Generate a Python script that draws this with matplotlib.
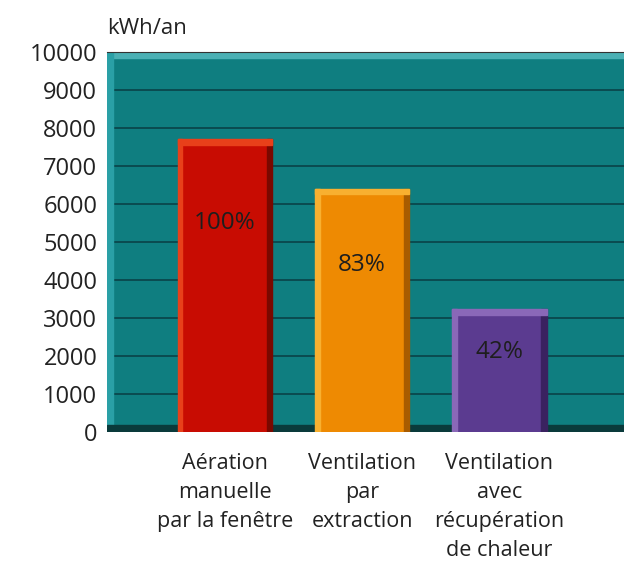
import matplotlib.pyplot as plt
from matplotlib.patches import Rectangle

categories = ['Aération\nmanuelle\npar la fenêtre', 'Ventilation\npar\nextraction',
              'Ventilation\navec\nrécupération\nde chaleur']
values = [7700, 6400, 3230]
percent_labels = ['100%', '83%', '42%']
label_y = [5500, 4400, 2100]
yticks = list(range(0, 10001, 1000))

bar_colors = ['#c80c02', '#ee8a02', '#5b3b90']
light_edge = ['#e8401a', '#f8b030', '#8a68b8']
dark_edge = ['#7a0800', '#a85c00', '#3a2260']

plt.rcParams['font.family'] = ['Open Sans', 'DejaVu Sans']

fig = plt.figure(figsize=(6.24, 5.62), dpi=100)
ax = fig.add_axes([0.1715, 0.2313, 0.8285, 0.6762])
ax.set_facecolor('#0f7e80')

x = range(len(values))
bars = ax.bar(x, values, width=0.69, color=bar_colors, zorder=3)

# bevel edges on the bars
for b, lc, dc in zip(bars, light_edge, dark_edge):
    bx, bw, bh = b.get_x(), b.get_width(), b.get_height()
    ax.add_patch(Rectangle((bx, 0), bw * 0.05, bh, color=lc, zorder=4))
    ax.add_patch(Rectangle((bx + bw * 0.94, 0), bw * 0.06, bh, color=dc, zorder=4))
    ax.add_patch(Rectangle((bx, bh - 150), bw, 150, color=lc, zorder=4))

for i, (t, yy) in enumerate(zip(percent_labels, label_y)):
    ax.text(i, yy, t, ha='center', va='center', fontsize=17.5, color='#1e1e1e', zorder=5)

ax.set_xlim(-0.86, 2.91)
ax.set_ylim(0, 10000)
ax.set_yticks(yticks)
ax.set_yticklabels([str(v) for v in yticks], fontsize=17, color='#222222')
ax.set_xticks(list(x))
ax.set_xticklabels(categories, fontsize=15.5, color='#222222', linespacing=1.5)
ax.tick_params(axis='both', length=0, pad=7)
ax.tick_params(axis='x', pad=15)
ax.grid(axis='y', color='#0a474c', linewidth=1.3, zorder=1)
ax.set_axisbelow(True)

# 3D look: top strip, left wall edge and floor
ax.add_patch(Rectangle((0, 0.983), 1, 0.017, transform=ax.transAxes, color='#4bb0b4', zorder=2))
ax.add_patch(Rectangle((0, 0), 0.012, 1, transform=ax.transAxes, color='#2aa0a6', zorder=2))
ax.add_patch(Rectangle((0, 0), 1, 0.018, transform=ax.transAxes, color='#0a3a3b', zorder=2))

for s in ['right', 'bottom', 'left']:
    ax.spines[s].set_visible(False)
ax.spines['top'].set_color('#333333')

fig.text(0.1715, 0.95, 'kWh/an', fontsize=16, color='#222222', ha='left', va='center')

fig.savefig('out.png', dpi=100)
